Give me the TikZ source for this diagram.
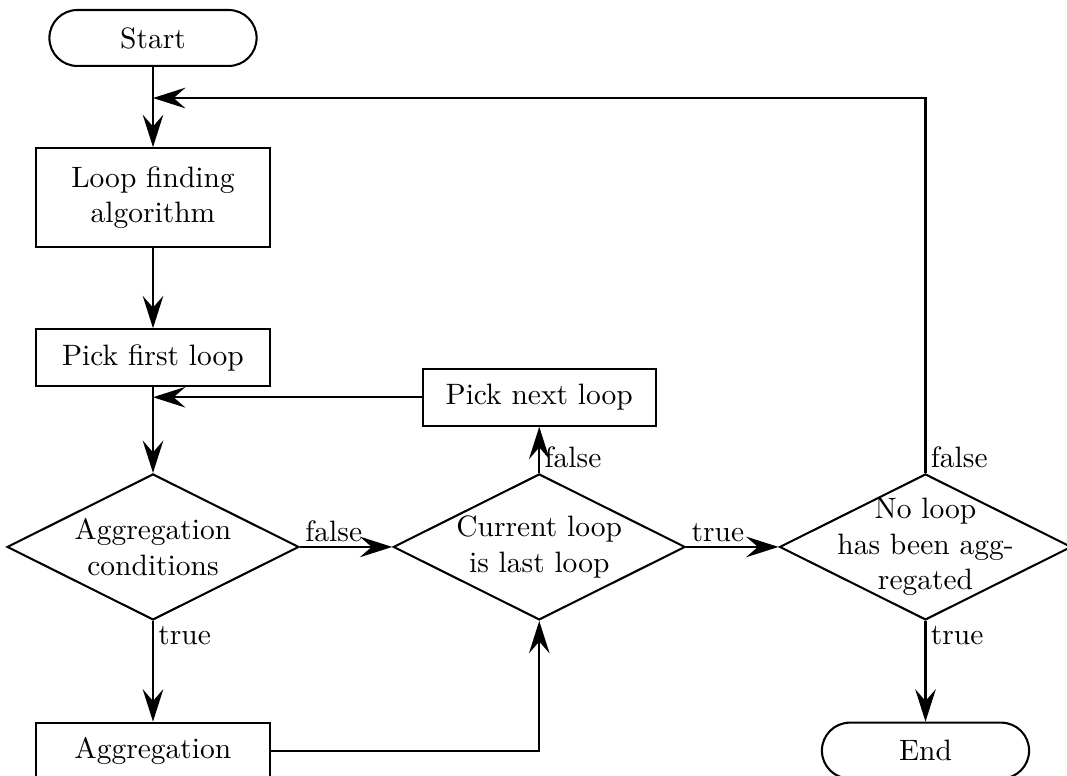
\documentclass[tikz,border=0pt]{standalone}
\usepackage{tikz}
\usetikzlibrary{arrows.meta,positioning,shapes.geometric,calc}
\tikzset{
  startstop/.style={
    rectangle, rounded corners=0.333cm, draw, line width=0.7pt,
    minimum width=2.47cm, minimum height=0.667cm,
    align=center, inner sep=3pt
  },
  procbox/.style={
    rectangle, draw, line width=0.7pt,
    minimum width=2.78cm, minimum height=#1,
    align=center, inner sep=3pt
  },
  procbox/.default=0.68cm,
  decision/.style={
    diamond, draw, line width=0.7pt, aspect=2,
    minimum width=3.48cm, minimum height=1.74cm,
    inner sep=0pt
  },
  dtext/.style={align=center, inner sep=0pt},
  flowarrow/.style={
    -{Stealth[length=11pt, width=7pt, inset=4pt]}, line width=0.7pt
  },
  edgelabel/.style={inner sep=1.5pt},
}
\begin{document}
\begin{tikzpicture}[node distance=0.955cm and 1.1cm]
\useasboundingbox (0,0) rectangle (12.72,-9.25);

\node[startstop] (start) at (1.824,-0.453) {Start};
\node[procbox=1.18cm, below=of start] (loopfind) {Loop finding\\algorithm};
\node[procbox, below=of loopfind] (pickfirst) {Pick first loop};
\node[decision, below=1.02cm of pickfirst,
  label={[dtext]center:Aggregation\\conditions}] (cond) {};
\node[decision, right=of cond,
  label={[dtext]center:Current loop\\is last loop}] (islast) {};
\node[decision, right=of islast,
  label={[dtext]center:No loop\\has been agg-\\regated}] (noagg) {};
\node[procbox, above=0.55cm of islast] (picknext) {Pick next loop};
\node[procbox, below=1.2cm of cond] (aggr) {Aggregation};
\node[startstop, below=1.2cm of noagg] (finish) {End};

\coordinate[below=0.37cm of start] (merge1);
\coordinate (merge2) at (pickfirst.south |- picknext.west);

\draw[flowarrow] (start) -- (loopfind);
\draw[flowarrow] (loopfind) -- (pickfirst);
\draw[flowarrow] (pickfirst) -- (cond);
\draw[flowarrow] (picknext) -- (merge2);
\draw[flowarrow] (cond.east) -- node[edgelabel, pos=0, anchor=south west] {false} (islast.west);
\draw[flowarrow] (cond.south) -- node[edgelabel, pos=0, anchor=north west] {true} (aggr.north);
\draw[flowarrow] (aggr.east) -| (islast.south);
\draw[flowarrow] (islast.north) -- node[edgelabel, pos=0, anchor=south west] {false} (picknext.south);
\draw[flowarrow] (islast.east) -- node[edgelabel, pos=0, anchor=south west] {true} (noagg.west);
\draw[flowarrow] (noagg.north) node[edgelabel, anchor=south west] {false} |- (merge1);
\draw[flowarrow] (noagg.south) -- node[edgelabel, pos=0, anchor=north west] {true} (finish.north);

\end{tikzpicture}
\end{document}
